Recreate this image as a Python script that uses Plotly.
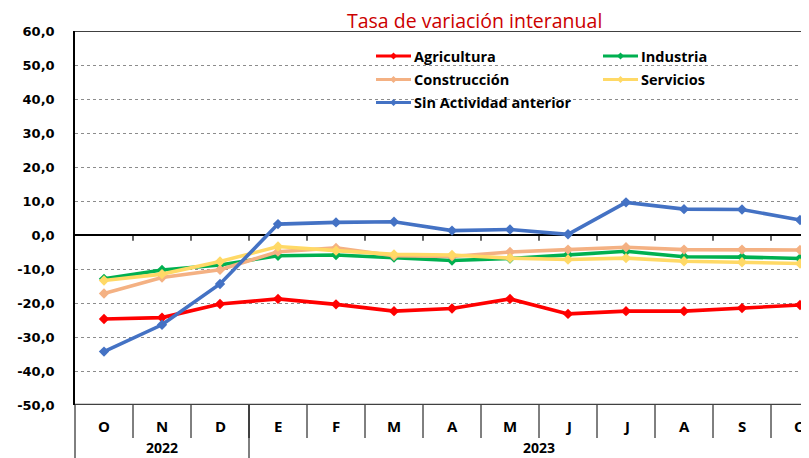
import plotly.graph_objects as go

months = ["O", "N", "D", "E", "F", "M", "A", "M", "J", "J", "A", "S", "O"]
years = ["2022", "2023"]
year_spans = [(0, 2), (3, 12)]

agricultura = [-24.7, -24.3, -20.3, -18.8, -20.4, -22.4, -21.6, -18.8, -23.2, -22.4, -22.4, -21.5, -20.6]
industria = [-12.9, -10.3, -8.8, -6.1, -5.9, -6.6, -7.5, -6.9, -5.8, -4.8, -6.4, -6.5, -6.9]
construccion = [-17.2, -12.5, -10.2, -4.9, -3.8, -6.1, -6.3, -5.0, -4.3, -3.6, -4.3, -4.3, -4.4]
servicios = [-13.4, -11.5, -7.8, -3.4, -4.6, -5.7, -5.9, -6.8, -7.2, -6.8, -7.7, -8.0, -8.4]
sin_actividad = [-34.3, -26.4, -14.4, 3.2, 3.7, 3.9, 1.3, 1.6, 0.2, 9.6, 7.6, 7.5, 4.4]

series_names = ["Agricultura", "Industria", "Construcción", "Servicios", "Sin Actividad anterior"]
series_values = [agricultura, industria, construccion, servicios, sin_actividad]
series_colors = ["#FF0000", "#00B050", "#F4B183", "#FFD966", "#4472C4"]

ytick_vals = list(range(-50, 61, 10))
ytick_text = [f"{v:.1f}".replace(".", ",") for v in ytick_vals]

W, H = 809, 458
L, R, T, B = 67, 0, 23, 61
PW, PH = W - L - R, H - T - B
CAT_PX = 58.0
x_range = [-0.5, -0.5 + PW / CAT_PX]


def px_x(px):
    return (px - L) / PW


def px_y(py):
    return (H - B - py) / PH


def cat_paper(x):
    return (x - x_range[0]) / (x_range[1] - x_range[0])


x = list(range(len(months)))
fig = go.Figure()
for name, vals, col in zip(series_names, series_values, series_colors):
    fig.add_trace(go.Scatter(
        x=x, y=vals, mode="lines+markers", name=name,
        line=dict(color=col, width=3.6),
        marker=dict(symbol="diamond", size=8, color=col),
        showlegend=False, cliponaxis=False,
    ))

shapes = []
# top border at 60
shapes.append(dict(type="line", xref="paper", yref="y", x0=0, x1=1, y0=60, y1=60,
                   line=dict(color="#000000", width=1.5)))
# bottom border at -50
shapes.append(dict(type="line", xref="paper", yref="y", x0=0, x1=1, y0=-50, y1=-50,
                   line=dict(color="#404040", width=2.5)))
# small ticks on the zero line
for k in range(len(months)):
    shapes.append(dict(type="line", xref="x", yref="y", x0=k + 0.5, x1=k + 0.5, y0=0, y1=-1.7,
                       line=dict(color="#000000", width=1.2)))
# table lines under the plot
for k in range(len(months)):
    bx = cat_paper(k + 0.5)
    if bx > 1:
        continue
    shapes.append(dict(type="line", xref="paper", yref="paper", x0=bx, x1=bx,
                       y0=0, y1=px_y(430), line=dict(color="#000000", width=1)))
for (a, b) in year_spans:
    bx = cat_paper(a - 0.5)
    shapes.append(dict(type="line", xref="paper", yref="paper", x0=bx, x1=bx,
                       y0=0, y1=px_y(H + 2), line=dict(color="#000000", width=1)))

annotations = []
for k, m in enumerate(months):
    annotations.append(dict(x=k, y=px_y(418), xref="x", yref="paper", text=m, showarrow=False,
                            font=dict(family="Open Sans", size=15, color="#000000", weight="bold"),
                            xanchor="center", yanchor="middle"))
for yr, (a, b) in zip(years, year_spans):
    annotations.append(dict(x=(a + b) / 2, y=px_y(439), xref="x", yref="paper", text=yr, showarrow=False,
                            font=dict(family="Open Sans", size=14, color="#000000", weight="bold"),
                            xanchor="center", yanchor="middle"))
# title
annotations.append(dict(x=px_x(467), y=px_y(13), xref="paper", yref="paper",
                        text="Tasa de variación interanual", showarrow=False,
                        font=dict(family="Open Sans", size=19.5, color="#CC0000"),
                        xanchor="center", yanchor="middle"))

# manual legend
leg_pos = [(368, 48), (595, 48), (368, 71.5), (595, 71.5), (368, 94.5)]
for name, col, (lx, ly) in zip(series_names, series_colors, leg_pos):
    shapes.append(dict(type="line", xref="paper", yref="paper", x0=px_x(lx), x1=px_x(lx + 35),
                       y0=px_y(ly), y1=px_y(ly), line=dict(color=col, width=3.2)))
    cx, cy, d = lx + 17.5, ly, 3.5
    path = (f"M {px_x(cx - d)} {px_y(cy)} L {px_x(cx)} {px_y(cy - d)} "
            f"L {px_x(cx + d)} {px_y(cy)} L {px_x(cx)} {px_y(cy + d)} Z")
    shapes.append(dict(type="path", xref="paper", yref="paper", path=path,
                       fillcolor=col, line=dict(color=col, width=0)))
    annotations.append(dict(x=px_x(lx + 36), y=px_y(ly), xref="paper", yref="paper", text=name,
                            showarrow=False, xanchor="left", yanchor="middle",
                            font=dict(family="Open Sans", size=14.5, color="#000000", weight="bold")))

fig.update_layout(
    width=W, height=H,
    margin=dict(l=L, r=R, t=T, b=B, pad=0),
    paper_bgcolor="#FFFFFF", plot_bgcolor="#FFFFFF",
    shapes=shapes, annotations=annotations,
    showlegend=False,
)
fig.update_xaxes(range=x_range, showticklabels=False, showgrid=False, zeroline=False,
                 showline=False, ticks="", fixedrange=True)
fig.update_yaxes(range=[-50, 60], tickvals=ytick_vals, ticktext=ytick_text,
                 showgrid=True, gridcolor="#8C8C8C", griddash="dot", gridwidth=1,
                 zeroline=True, zerolinecolor="#000000", zerolinewidth=1.5,
                 showline=True, linecolor="#000000", linewidth=1.5, ticks="",
                 ticklabelstandoff=16,
                 tickfont=dict(family="DejaVu Sans", size=13, color="#000000", weight="bold"))

fig.write_html("out.html")
